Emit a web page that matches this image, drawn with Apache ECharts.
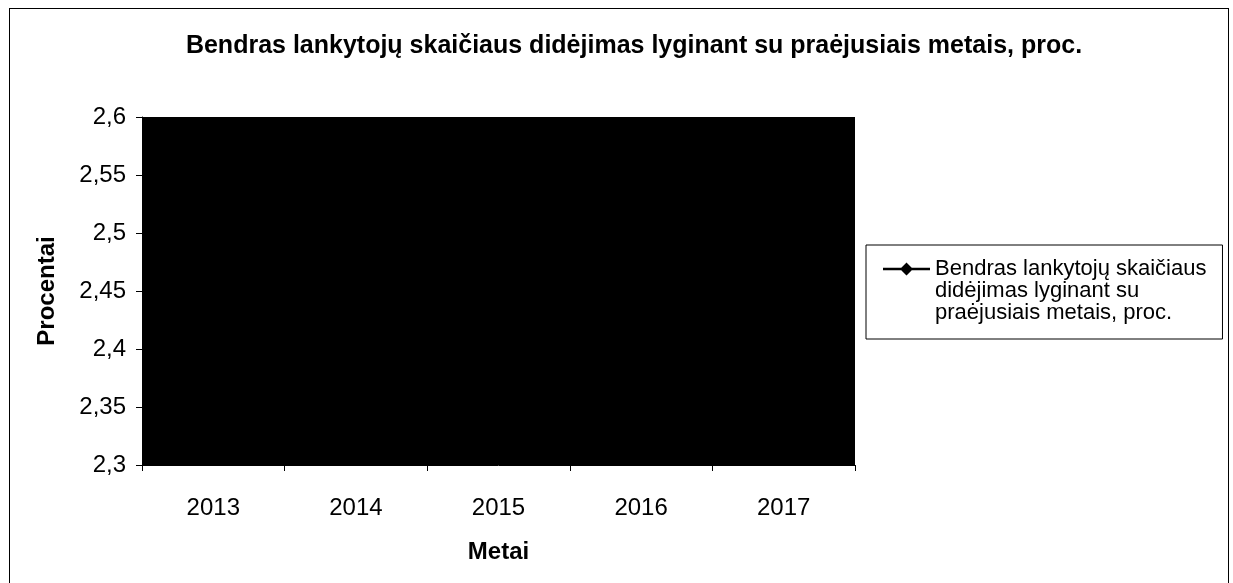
<!DOCTYPE html>
<html>
<head>
<meta charset="utf-8">
<script src="https://cdn.jsdelivr.net/npm/echarts@6/dist/echarts.min.js"></script>
<style>
html,body{margin:0;padding:0;background:#fff;}
#frame{position:absolute;left:9px;top:8px;width:1220px;height:600px;border:1px solid #000;box-sizing:border-box;}
#chart{position:absolute;left:0;top:0;width:1233px;height:583px;}
</style>
</head>
<body>
<div id="frame"></div>
<div id="chart"></div>
<script>
const years = ['2013', '2014', '2015', '2016', '2017'];
const growthPercent = [2.48, 2.50, 2.53, 2.56, 2.58];
const yTicks = [2.3, 2.35, 2.4, 2.45, 2.5, 2.55, 2.6];
const seriesName = 'Bendras lankytojų skaičiaus didėjimas lyginant su praėjusiais metais, proc.';
const legendLines = ['Bendras lankytojų skaičiaus', 'didėjimas lyginant su', 'praėjusiais metais, proc.'];
const chartTitle = 'Bendras lankytojų skaičiaus didėjimas lyginant su praėjusiais metais, proc.';
const yAxisName = 'Procentai';
const xAxisName = 'Metai';

const FONT = "'Liberation Sans', Arial, sans-serif";
const chart = echarts.init(document.getElementById('chart'), null, {renderer: 'canvas'});

const legendIcon = 'path://M0 0L0.01 0M0 9.8L47 9.8L47 12.2L0 12.2ZM23.5 4.5L30 11L23.5 17.5L17 11ZM0 66L0.01 66';

chart.setOption({
  animation: false,
  backgroundColor: 'transparent',
  textStyle: {fontFamily: FONT, color: '#000'},
  title: {
    text: chartTitle,
    left: 634,
    textAlign: 'center',
    top: 34,
    padding: 0,
    textStyle: {fontFamily: FONT, fontWeight: 'bold', fontSize: 25, color: '#000'}
  },
  legend: {
    left: 866,
    top: 245,
    orient: 'vertical',
    padding: [13, 16, 15, 17],
    borderColor: '#000',
    borderWidth: 1,
    borderRadius: 0,
    itemWidth: 47,
    itemHeight: 66,
    itemGap: 0,
    data: [{name: seriesName, icon: legendIcon}],
    formatter: () => legendLines.join('\n'),
    textStyle: {fontFamily: FONT, fontSize: 22, lineHeight: 22, color: '#000'}
  },
  grid: {
    left: 142, top: 117, width: 713, height: 348,
    show: true, backgroundColor: '#000', borderWidth: 0,
    containLabel: false
  },
  xAxis: {
    type: 'category',
    data: years,
    boundaryGap: true,
    name: xAxisName,
    nameLocation: 'middle',
    nameGap: 75,
    nameTextStyle: {fontFamily: FONT, fontWeight: 'bold', fontSize: 24, color: '#000'},
    axisLine: {show: true, lineStyle: {color: '#000', width: 1}},
    axisTick: {show: true, length: 6, alignWithLabel: false, lineStyle: {color: '#000'}},
    axisLabel: {margin: 31, fontFamily: FONT, fontSize: 24, color: '#000'},
    splitLine: {show: false}
  },
  yAxis: {
    type: 'value',
    min: yTicks[0],
    max: yTicks[yTicks.length - 1],
    interval: 0.05,
    name: yAxisName,
    nameLocation: 'middle',
    nameGap: 83,
    nameTextStyle: {fontFamily: FONT, fontWeight: 'bold', fontSize: 24, color: '#000'},
    axisLine: {show: true, lineStyle: {color: '#000', width: 1}},
    axisTick: {show: true, length: 6, lineStyle: {color: '#000'}},
    axisLabel: {
      margin: 16, fontFamily: FONT, fontSize: 24, color: '#000',
      formatter: v => String(Math.round(v * 100) / 100).replace('.', ',')
    },
    splitLine: {show: false}
  },
  series: [{
    name: seriesName,
    type: 'line',
    data: growthPercent,
    symbol: 'diamond',
    symbolSize: 10,
    itemStyle: {color: '#000'},
    lineStyle: {color: '#000', width: 2}
  }]
});
</script>
</body>
</html>
